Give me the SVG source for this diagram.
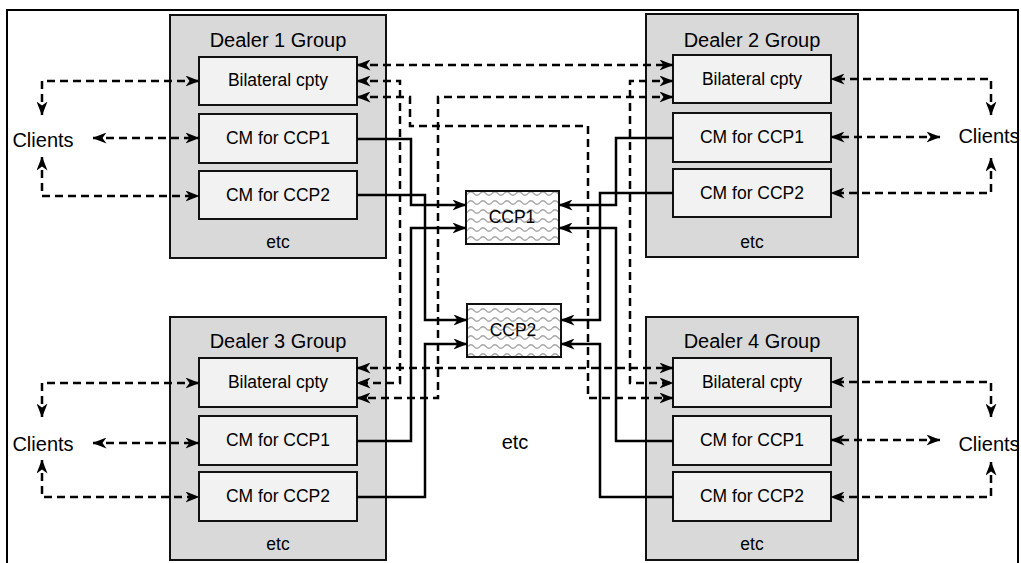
<svg xmlns="http://www.w3.org/2000/svg" width="1021" height="563" viewBox="0 0 1021 563">
<style>
text{font-family:"Liberation Sans",Arial,sans-serif;fill:#000;text-anchor:middle}
.grp{fill:#d9d9d9;stroke:#111;stroke-width:2}
.box{fill:#f2f2f2;stroke:#111;stroke-width:2}
.ccp{fill:url(#wave);stroke:#111;stroke-width:2}
.t{font-size:20px}
.l{font-size:17.5px}
.e{font-size:17.5px}
.sol{fill:none;stroke:#000;stroke-width:2.5;marker-end:url(#ah)}
.dsh{fill:none;stroke:#000;stroke-width:2.5;stroke-dasharray:8 5;marker-start:url(#ah);marker-end:url(#ah)}
.frame{fill:none;stroke:#000;stroke-width:2}
</style>
<defs>
<marker id="ah" viewBox="0 0 14 11" refX="13.5" refY="5.5" markerWidth="14" markerHeight="11" markerUnits="userSpaceOnUse" orient="auto-start-reverse">
<path d="M0,0 L14,5.5 L0,11 L4,5.5 Z" fill="#000"/>
</marker>
<pattern id="wave" width="12" height="9" patternUnits="userSpaceOnUse">
<rect width="12" height="9" fill="#fff"/>
<path d="M0,4.5 Q3,1 6,4.5 T12,4.5" fill="none" stroke="#a8a8a8" stroke-width="1.3"/>
</pattern>
</defs>

<path class="frame" d="M7,563 V10 H1018 V563"/>

<g id="dealer1">
<rect class="grp" x="170" y="15" width="216" height="243"/>
<text class="t" x="278" y="47">Dealer 1 Group</text>
<rect class="box" x="199" y="57" width="158" height="48"/>
<text class="l" x="278" y="86">Bilateral cpty</text>
<rect class="box" x="199" y="114" width="158" height="49"/>
<text class="l" x="278" y="144">CM for CCP1</text>
<rect class="box" x="199" y="171" width="158" height="48"/>
<text class="l" x="278" y="201">CM for CCP2</text>
<text class="e" x="278" y="248">etc</text>
</g>

<g id="dealer2">
<rect class="grp" x="646" y="14" width="212" height="243"/>
<text class="t" x="752" y="47">Dealer 2 Group</text>
<rect class="box" x="673" y="55" width="158" height="48"/>
<text class="l" x="752" y="85">Bilateral cpty</text>
<rect class="box" x="673" y="113" width="158" height="49"/>
<text class="l" x="752" y="143">CM for CCP1</text>
<rect class="box" x="673" y="169" width="158" height="48"/>
<text class="l" x="752" y="199">CM for CCP2</text>
<text class="e" x="752" y="248">etc</text>
</g>

<g id="dealer3">
<rect class="grp" x="170" y="317" width="216" height="243"/>
<text class="t" x="278" y="348">Dealer 3 Group</text>
<rect class="box" x="199" y="358" width="158" height="49"/>
<text class="l" x="278" y="388">Bilateral cpty</text>
<rect class="box" x="199" y="416" width="158" height="49"/>
<text class="l" x="278" y="446">CM for CCP1</text>
<rect class="box" x="199" y="472" width="158" height="49"/>
<text class="l" x="278" y="502">CM for CCP2</text>
<text class="e" x="278" y="550">etc</text>
</g>

<g id="dealer4">
<rect class="grp" x="646" y="317" width="212" height="243"/>
<text class="t" x="752" y="348">Dealer 4 Group</text>
<rect class="box" x="673" y="358" width="158" height="49"/>
<text class="l" x="752" y="388">Bilateral cpty</text>
<rect class="box" x="673" y="416" width="158" height="49"/>
<text class="l" x="752" y="446">CM for CCP1</text>
<rect class="box" x="673" y="472" width="158" height="49"/>
<text class="l" x="752" y="502">CM for CCP2</text>
<text class="e" x="752" y="550">etc</text>
</g>

<g id="ccp1">
<rect class="ccp" x="466" y="191" width="93" height="53"/>
<text class="l" x="512" y="223">CCP1</text>
</g>
<g id="ccp2">
<rect class="ccp" x="467" y="304" width="94" height="53"/>
<text class="l" x="513" y="336">CCP2</text>
</g>

<g id="clients1"><text class="t" x="43" y="147">Clients</text></g>
<g id="clients2"><text class="t" x="989" y="143">Clients</text></g>
<g id="clients3"><text class="t" x="43" y="451">Clients</text></g>
<g id="clients4"><text class="t" x="989" y="451">Clients</text></g>
<g id="etc-center"><text class="t" x="515" y="449">etc</text></g>

<g id="connectors">
<path class="dsh" d="M42,115 V81 H199"/>
<path class="dsh" d="M93,138 H199"/>
<path class="dsh" d="M42,157 V196 H199"/>
<path class="dsh" d="M991,115 V79 H831"/>
<path class="dsh" d="M940,137 H831"/>
<path class="dsh" d="M991,158 V193 H831"/>
<path class="dsh" d="M42,417 V383 H199"/>
<path class="dsh" d="M93,443 H199"/>
<path class="dsh" d="M42,460 V497 H199"/>
<path class="dsh" d="M991,417 V382 H831"/>
<path class="dsh" d="M940,440 H831"/>
<path class="dsh" d="M991,462 V497 H831"/>
<path class="dsh" d="M357,65 H673"/>
<path class="dsh" d="M357,81 H400 V383 H357"/>
<path class="dsh" d="M357,97 H410 V126 H588 V398 H673"/>
<path class="dsh" d="M673,97 H438 V398 H357"/>
<path class="dsh" d="M673,81 H630 V383 H673"/>
<path class="dsh" d="M357,368 H673"/>
<path class="sol" d="M357,139 H411 V205 H466"/>
<path class="sol" d="M357,195 H425 V320 H467"/>
<path class="sol" d="M357,441 H411 V228 H466"/>
<path class="sol" d="M357,497 H425 V344 H467"/>
<path class="sol" d="M673,138 H616 V205 H559"/>
<path class="sol" d="M673,193 H600 V320 H561"/>
<path class="sol" d="M673,441 H616 V228 H559"/>
<path class="sol" d="M673,497 H600 V344 H561"/>
</g>
</svg>
